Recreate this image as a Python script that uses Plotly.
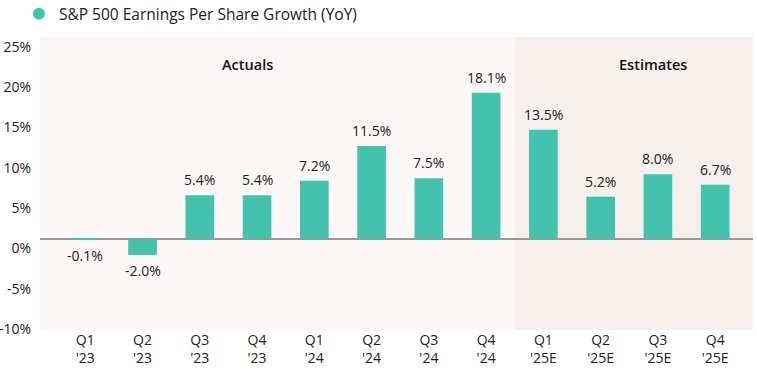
import plotly.graph_objects as go

quarters = ["Q1<br>'23", "Q2<br>'23", "Q3<br>'23", "Q4<br>'23",
            "Q1<br>'24", "Q2<br>'24", "Q3<br>'24", "Q4<br>'24",
            "Q1<br>'25E", "Q2<br>'25E", "Q3<br>'25E", "Q4<br>'25E"]
eps_growth = [-0.1, -2.0, 5.4, 5.4, 7.2, 11.5, 7.5, 18.1, 13.5, 5.2, 8.0, 6.7]
y_ticks = [-10, -5, 0, 5, 10, 15, 20, 25]
y_tick_labels = ["-10%", "-5%", "0%", "5%", "10%", "15%", "20%", "25%"]
series_name = "S&P 500 Earnings Per Share Growth (YoY)"

FONT = "Open Sans"
TEAL = "#43C2AD"

x_idx = list(range(len(quarters)))

fig = go.Figure()
fig.add_trace(go.Bar(
    x=x_idx, y=eps_growth, width=0.5,
    marker=dict(color=TEAL, line=dict(width=0)),
    name=series_name, showlegend=False,
))
# legend entry with circular marker
fig.add_trace(go.Scatter(
    x=[None], y=[None], mode="markers", name=series_name,
    marker=dict(color=TEAL, size=12, symbol="circle"),
))

# value labels
for xi, v in zip(x_idx, eps_growth):
    fig.add_annotation(
        x=xi, y=v, xref="x", yref="y", text=f"{v:.1f}%", showarrow=False,
        yanchor="bottom" if v >= 0 else "top", yshift=4 if v >= 0 else -4,
        font=dict(family=FONT, size=14, color="#222222"),
    )

fig.add_shape(type="rect", xref="x", yref="paper", x0=-0.79, x1=7.5, y0=0, y1=1,
              fillcolor="#FCF8F7", line=dict(width=0), layer="below")
fig.add_shape(type="rect", xref="x", yref="paper", x0=7.5, x1=11.66, y0=0, y1=1,
              fillcolor="#F5F0EC", line=dict(width=0), layer="below")

fig.add_annotation(x=2.83, y=21.6, xref="x", yref="y", text="Actuals", showarrow=False,
                   font=dict(family=FONT, size=14.5, color="#111111", weight=600))
fig.add_annotation(x=9.91, y=21.6, xref="x", yref="y", text="Estimates", showarrow=False,
                   font=dict(family=FONT, size=14.5, color="#111111", weight=600))

fig.update_layout(
    width=757, height=376,
    margin=dict(l=40, r=4, t=37, b=46, autoexpand=False),
    plot_bgcolor="white", paper_bgcolor="white",
    font=dict(family=FONT, size=14, color="#222222"),
    showlegend=True,
    legend=dict(orientation="h", x=-0.0295, xanchor="left", y=1.02, yanchor="bottom",
                font=dict(family=FONT, size=15.5, color="#222222"),
                itemwidth=30, bgcolor="rgba(0,0,0,0)"),
    xaxis=dict(tickmode="array", tickvals=x_idx, ticktext=quarters,
               range=[-0.79, 11.66], showgrid=False, zeroline=False,
               showline=False, ticks="", tickfont=dict(family=FONT, size=14)),
    yaxis=dict(range=[-11.3, 25], tickvals=y_ticks, ticktext=y_tick_labels,
               ticklabelposition="outside bottom", ticklabelstandoff=8,
               showgrid=False, zeroline=True, zerolinecolor="#9a9a9a", zerolinewidth=1.5,
               showline=False, ticks="", tickfont=dict(family=FONT, size=14)),
)

fig.write_html("out.html", config={"displayModeBar": False},
               post_script="document.body.style.margin='0';")
